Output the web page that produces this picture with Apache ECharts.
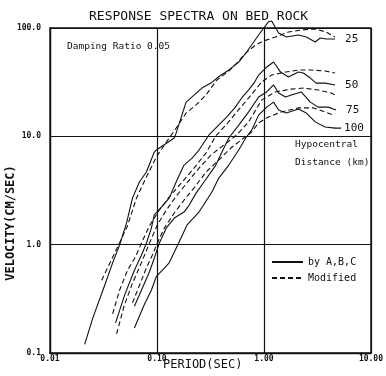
<!DOCTYPE html>
<html>
<head>
<meta charset="utf-8">
<script src="https://cdn.jsdelivr.net/npm/echarts@6/dist/echarts.min.js"></script>
<style>
html, body { margin: 0; padding: 0; background: #fff; }
#chartLineBox { width: 386px; height: 376px; }
</style>
</head>
<body>
<div id="chartLineBox"></div>
<script>
var xTicks = ["0.01", "0.10", "1.00", "10.00"];
var yTicks = ["0.1", "1.0", "10.0", "100.0"];
var distances = ["25", "50", "75", "100"];

// [period (sec), velocity (cm/sec)]
var solid25 = [[0.0211,0.12],[0.0251,0.21],[0.0324,0.42],[0.0385,0.68],[0.0447,0.99],[0.0519,1.58],[0.059,2.69],[0.0685,3.79],[0.0796,4.68],[0.0944,7.16],[0.0986,7.47],[0.145,9.65],[0.151,10.7],[0.187,20.7],[0.213,23.1],[0.263,27.9],[0.319,31.0],[0.363,34.5],[0.469,40.9],[0.581,48.5],[0.689,60.0],[0.891,86.1],[1.10,114],[1.18,116],[1.37,89.9],[1.62,82.6],[2.10,86.1],[2.49,82.6],[3.01,74.3],[3.36,80.9],[3.81,79.1],[4.62,79.1]];
var dashed25 = [[0.0304,0.47],[0.0428,0.95],[0.053,1.49],[0.0643,2.69],[0.0796,4.21],[0.0986,6.44],[0.117,8.31],[0.151,11.9],[0.187,16.4],[0.232,19.5],[0.287,24.1],[0.363,33.1],[0.469,40.1],[0.557,47.5],[0.675,58.7],[0.836,69.7],[0.991,75.8],[1.28,82.6],[1.69,91.8],[2.23,95.8],[3.01,97.9],[3.81,91.8],[4.62,82.6]];
var solid50 = [[0.041,0.19],[0.0497,0.34],[0.0615,0.58],[0.0715,0.80],[0.0796,1.03],[0.0886,1.42],[0.0944,1.88],[0.110,2.22],[0.130,2.69],[0.154,3.95],[0.179,5.43],[0.213,6.30],[0.247,7.47],[0.306,10.3],[0.363,12.2],[0.450,15.1],[0.533,18.3],[0.619,22.6],[0.719,26.8],[0.818,31.7],[0.891,36.8],[1.06,43.6],[1.23,48.5],[1.43,39.2],[1.69,35.3],[2.10,39.2],[2.33,38.4],[2.71,34.5],[3.08,31.0],[3.73,31.0],[4.62,29.8]];
var dashed50 = [[0.0385,0.23],[0.0447,0.38],[0.053,0.58],[0.0629,0.77],[0.0715,1.03],[0.0849,1.49],[0.105,2.08],[0.130,2.75],[0.172,3.79],[0.222,5.09],[0.287,7.01],[0.355,10.1],[0.450,13.0],[0.557,16.8],[0.719,22.6],[0.951,31.7],[1.18,36.8],[1.59,39.2],[2.10,40.9],[2.77,40.9],[3.73,40.1],[4.62,38.4]];
var solid75 = [[0.0615,0.27],[0.0715,0.38],[0.0849,0.56],[0.0944,0.75],[0.105,1.03],[0.122,1.42],[0.145,1.76],[0.179,2.00],[0.200,2.32],[0.232,2.99],[0.275,3.79],[0.355,5.43],[0.413,7.47],[0.469,9.65],[0.581,12.7],[0.719,16.8],[0.891,23.1],[1.06,25.7],[1.23,29.8],[1.37,25.1],[1.59,23.1],[1.80,24.1],[2.23,25.7],[2.71,20.7],[3.21,18.6],[3.98,18.6],[4.72,17.5]];
var dashed75 = [[0.0419,0.15],[0.0497,0.28],[0.059,0.44],[0.0715,0.68],[0.0849,1.03],[0.1007,1.52],[0.122,2.08],[0.154,2.87],[0.200,3.95],[0.247,5.09],[0.319,6.72],[0.422,8.31],[0.557,10.3],[0.719,13.6],[0.951,21.6],[1.28,25.7],[1.80,27.3],[2.33,27.9],[3.21,26.8],[4.25,25.1],[4.62,24.1]];
var solid100 = [[0.0615,0.17],[0.0762,0.28],[0.0886,0.38],[0.0986,0.51],[0.112,0.58],[0.130,0.68],[0.161,1.06],[0.191,1.52],[0.247,2.00],[0.326,3.06],[0.378,4.12],[0.469,5.43],[0.581,7.47],[0.675,9.65],[0.767,11.4],[0.891,15.7],[1.06,18.6],[1.23,20.7],[1.37,17.5],[1.62,16.4],[2.10,17.9],[2.49,16.4],[3.01,13.6],[3.73,12.2],[4.62,11.9],[5.26,11.9]];
var dashed100 = [[0.059,0.29],[0.0685,0.42],[0.0796,0.61],[0.0904,0.80],[0.1007,1.03],[0.117,1.42],[0.145,1.96],[0.179,2.58],[0.222,3.34],[0.287,4.68],[0.378,6.04],[0.490,7.80],[0.647,9.65],[0.751,10.7],[0.891,13.3],[1.10,15.1],[1.46,16.8],[2.10,18.3],[2.89,18.3],[3.73,16.8],[4.43,15.7]];

var solids = [solid25, solid50, solid75, solid100];
var dashes = [dashed25, dashed50, dashed75, dashed100];

var mono = "DejaVu Sans Mono";
var ink = "#111";

var chartLine = echarts.init(document.getElementById("chartLineBox"));

var series = [];
solids.forEach(function (d, i) {
  series.push({
    name: "by A,B,C",
    type: "line",
    data: d,
    symbol: "none",
    clip: false,
    silent: true,
    itemStyle: { color: ink },
    lineStyle: { color: ink, width: 1.1, type: "solid" },
    endLabel: {
      show: true,
      formatter: function () { return distances[i]; },
      color: ink,
      fontFamily: mono,
      fontSize: 11,
      distance: i === 3 ? 3 : 10
    }
  });
});
dashes.forEach(function (d) {
  series.push({
    name: "Modified",
    type: "line",
    data: d,
    symbol: "none",
    clip: false,
    silent: true,
    itemStyle: { color: ink },
    lineStyle: { color: ink, width: 1.1, type: [5, 3] }
  });
});

var option = {
  backgroundColor: "#fff",
  animation: false,
  title: {
    text: "RESPONSE SPECTRA ON BED ROCK",
    left: 84,
    top: 5,
    textStyle: { fontFamily: mono, fontSize: 13, fontWeight: "normal", color: ink }
  },
  legend: {
    data: ["by A,B,C", "Modified"],
    orient: "vertical",
    left: 266,
    top: 252,
    itemWidth: 31,
    itemHeight: 8,
    itemGap: 6,
    itemStyle: { opacity: 0 },
    textStyle: { fontFamily: mono, fontSize: 10, color: ink }
  },
  grid: {
    left: 50,
    right: 14,
    top: 28,
    bottom: 23,
    show: true,
    borderColor: ink,
    borderWidth: 1.3
  },
  xAxis: {
    type: "log",
    logBase: 10,
    min: 0.01,
    max: 10,
    axisLine: { show: true, lineStyle: { color: ink, width: 1.3 } },
    axisTick: { show: false },
    minorTick: { show: false },
    splitLine: { show: true, lineStyle: { color: ink, width: 1.2 } },
    axisLabel: {
      margin: 2,
      fontFamily: mono,
      fontSize: 8,
      fontWeight: "bold",
      color: ink,
      formatter: function (v) { return xTicks[Math.round(Math.log10(v)) + 2]; }
    }
  },
  yAxis: {
    type: "log",
    logBase: 10,
    min: 0.1,
    max: 100,
    axisLine: { show: true, lineStyle: { color: ink, width: 1.3 } },
    axisTick: { show: false },
    minorTick: { show: false },
    splitLine: { show: true, lineStyle: { color: ink, width: 1.2 } },
    axisLabel: {
      margin: 9,
      fontFamily: mono,
      fontSize: 8,
      fontWeight: "bold",
      color: ink,
      formatter: function (v) { return yTicks[Math.round(Math.log10(v)) + 1]; }
    }
  },
  graphic: [
    { type: "text", left: 67, top: 42, style: { text: "Damping Ratio 0.05", fontFamily: mono, fontSize: 9.5, fill: ink } },
    { type: "text", left: 295, top: 140, style: { text: "Hypocentral", fontFamily: mono, fontSize: 9.5, fill: ink } },
    { type: "text", left: 295, top: 158, style: { text: "Distance (km)", fontFamily: mono, fontSize: 9.5, fill: ink } },
    { type: "text", left: 163, top: 359, style: { text: "PERIOD(SEC)", fontFamily: mono, fontSize: 12, fill: ink } },
    {
      type: "text",
      x: 11,
      y: 223,
      rotation: Math.PI / 2,
      style: { text: "VELOCITY(CM/SEC)", fontFamily: mono, fontSize: 12, fontWeight: "bold", fill: ink, align: "center", verticalAlign: "middle" }
    }
  ],
  series: series
};

chartLine.setOption(option);
</script>
</body>
</html>
